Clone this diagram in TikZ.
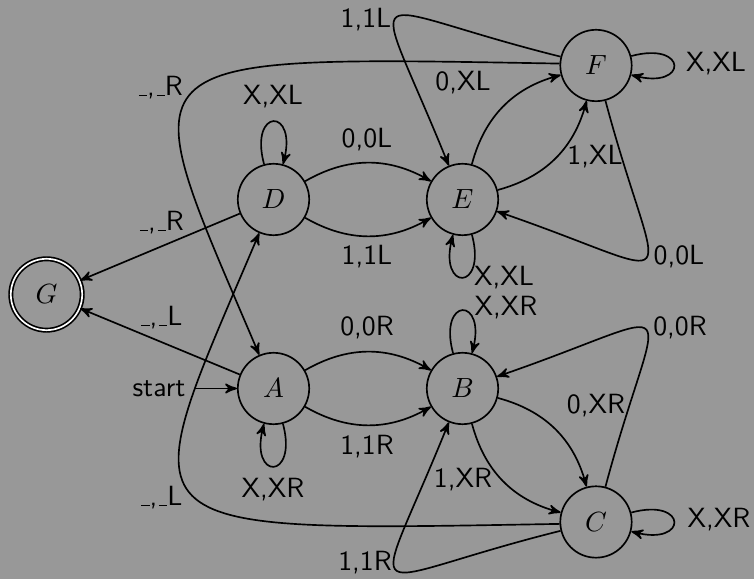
\documentclass[tikz,border=0pt]{standalone}
\usetikzlibrary{arrows}
\definecolor{bgc}{RGB}{152,152,152}
% blank tape symbol: a short rule on the baseline
\newcommand{\uscore}{\leavevmode\kern.06em\vbox{\hrule width .3em}}
\begin{document}
\begin{tikzpicture}[x=0.36pt,y=0.36pt,line width=0.6pt,>=stealth',
  state/.style={circle,draw,minimum size=25.7pt,inner sep=0pt},
  accept/.style={double,double distance=0.6pt},
  tr/.style={->},
  lbl/.style={font=\sffamily,inner sep=0pt}]
\path[use as bounding box,fill=bgc] (0,0) rectangle (754,579);

% states
\node[state] (A) at (273.5,190.5) {$A$};
\node[state] (B) at (462.5,190.5) {$B$};
\node[state] (C) at (596,57) {$C$};
\node[state] (D) at (273.5,379.5) {$D$};
\node[state] (E) at (462.5,379.5) {$E$};
\node[state] (F) at (596,513.5) {$F$};
\node[state,accept] (G) at (46.5,284.5) {$G$};
\node[font=\sffamily] (st) at (159,190.5) {start};

% transitions
\draw[tr] (st) -- (A);
\draw[tr] (A) to[bend left] (B);
\draw[tr] (A) to[bend right] (B);
\draw[tr] (A) to[loop below] (A);
\draw[tr] (A) -- (G);
\draw[tr] (D) -- (G);
\draw[tr] (D) to[bend left] (E);
\draw[tr] (D) to[bend right] (E);
\draw[tr] (D) to[loop above] (D);
\draw[tr] (E) to[bend left] (F);
\draw[tr] (E) to[bend right] (F);
\draw[tr] (E) to[loop below] (E);
\draw[tr] (F) to[loop right] (F);
\draw[tr] (F.166) .. controls +(166:214) and +(112:214) .. (E.112);
\draw[tr] (F.-75) .. controls +(-75:210) and +(-19:210) .. (E.-19);
\draw[tr] (F.177) .. controls +(179:450) and +(113:330) .. (A.113);
\draw[tr] (C.-177) .. controls +(-179:450) and +(-113:330) .. (D.-113);
\draw[tr] (C.-166) .. controls +(-166:214) and +(-112:214) .. (B.-112);
\draw[tr] (C.75) .. controls +(75:210) and +(19:210) .. (B.19);
\draw[tr] (B) to[bend left] (C);
\draw[tr] (B) to[bend right] (C);
\draw[tr] (B) to[loop above] (B);
\draw[tr] (C) to[loop right] (C);

% transition labels
\node[lbl] (lFA) at (160,491) {\uscore,\uscore R};
\node[lbl] (lDD) at (273,482) {X,XL};
\node[lbl] (lFE1) at (366,559) {1,1L};
\node[lbl] (lDE0) at (367,439) {0,0L};
\node[lbl] (lDG) at (161,356) {\uscore,\uscore R};
\node[lbl] (lDE1) at (367,322) {1,1L};
\node[lbl] (lEF0) at (463,496) {0,XL};
\node[lbl] (lFF) at (716,515) {X,XL};
\node[lbl] (lEF1) at (595,422) {1,XL};
\node[lbl] (lFE0) at (679,322) {0,0L};
\node[lbl] (lEE) at (504,301) {X,XL};
\node[lbl] (lBB) at (506,271) {X,XR};
\node[lbl] (lCB0) at (680,251) {0,0R};
\node[lbl] (lAB0) at (367,251) {0,0R};
\node[lbl] (lAG) at (161,261) {\uscore,\uscore L};
\node[lbl] (lAB1) at (367,132) {1,1R};
\node[lbl] (lBC0) at (596,173) {0,XR};
\node[lbl] (lBC1) at (463,99) {1,XR};
\node[lbl] (lAA) at (273,89) {X,XR};
\node[lbl] (lCD) at (161,81) {\uscore,\uscore L};
\node[lbl] (lCC) at (719,59) {X,XR};
\node[lbl] (lCB1) at (365,16) {1,1R};
\end{tikzpicture}
\end{document}
